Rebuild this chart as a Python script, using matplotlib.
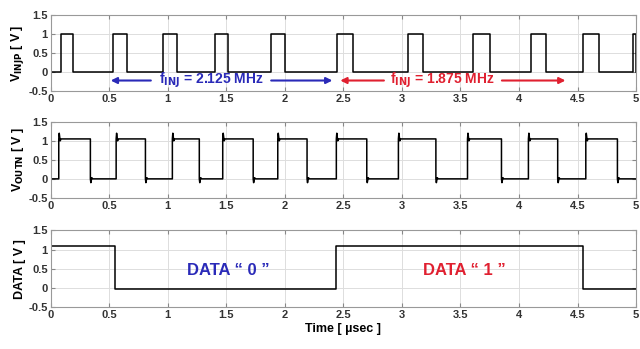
import numpy as np
import matplotlib
matplotlib.use("Agg")
import matplotlib.pyplot as plt

plt.rcParams['font.family'] = ['Liberation Sans', 'DejaVu Sans']

# ---- data ----
x_ticks = [0, 0.5, 1, 1.5, 2, 2.5, 3, 3.5, 4, 4.5, 5]
x_tick_labels = ['0', '0.5', '1', '1.5', '2', '2.5', '3', '3.5', '4', '4.5', '5']
y_ticks = [-0.5, 0, 0.5, 1, 1.5]
y_tick_labels = ['-0.5', '0', '0.5', '1', '1.5']

# V_INJP: pulse edges (rise, fall) in usec
injp_rise = [0.087, 0.536, 0.963, 1.40, 1.88, 2.447, 3.05, 3.61, 4.105, 4.55, 4.97]
injp_fall = [0.195, 0.650, 1.077, 1.515, 2.00, 2.58, 3.18, 3.75, 4.23, 4.68, 5.00]
injp_high = 1.0
injp_low = 0.0

# V_OUTN: square-wave edges
outn_rise = [0.07, 0.56, 1.04, 1.47, 1.94, 2.44, 2.97, 3.56, 4.08, 4.57]
outn_fall = [0.34, 0.81, 1.27, 1.73, 2.19, 2.70, 3.29, 3.85, 4.33, 4.84]
outn_high = 1.05
outn_low = 0.0
outn_overshoot_high = 1.2
outn_overshoot_low = -0.1

# DATA
data_times = [0.0, 0.55, 2.44, 4.55, 5.0]
data_levels = [1.1, -0.03, 1.1, -0.03]


def pulse_wave(rises, falls, hi, lo, os_hi=None, os_lo=None):
    t = [0.0]
    v = [lo]
    for r, f in zip(rises, falls):
        t += [r, r]
        v += [lo, hi]
        if os_hi is not None:
            t += [r + 0.004, r + 0.012, r + 0.02]
            v += [os_hi, hi - 0.05, hi]
        t += [f, f]
        v += [hi, lo]
        if os_lo is not None and f < 5:
            t += [f + 0.004, f + 0.012, f + 0.02]
            v += [os_lo, lo + 0.03, lo]
    t.append(5.0)
    v.append(v[-1])
    return np.array(t), np.array(v)


t1, v1 = pulse_wave(injp_rise, injp_fall, injp_high, injp_low)
t2, v2 = pulse_wave(outn_rise, outn_fall, outn_high, outn_low,
                    outn_overshoot_high, outn_overshoot_low)

t3 = []
v3 = []
for i, lvl in enumerate(data_levels):
    t3 += [data_times[i], data_times[i + 1]]
    v3 += [lvl, lvl]

fig = plt.figure(figsize=(6.4, 3.49), dpi=100)
rects = [
    [0.079, 0.740, 0.915, 0.217],
    [0.079, 0.433, 0.915, 0.218],
    [0.079, 0.120, 0.915, 0.220],
]
ylabels = [r'V$_{\mathbf{INJP}}$ [ V ]', r'V$_{\mathbf{OUTN}}$ [ V ]', 'DATA [ V ]']
series = [(t1, v1), (t2, v2), (t3, v3)]

axes = []
for rect, yl, (tt, vv) in zip(rects, ylabels, series):
    ax = fig.add_axes(rect)
    ax.plot(tt, vv, color='black', lw=1.1)
    ax.set_xlim(0, 5)
    ax.set_ylim(-0.5, 1.5)
    ax.set_xticks(x_ticks)
    ax.set_xticklabels(x_tick_labels, fontsize=8, fontweight='bold', color='#333333')
    ax.set_yticks(y_ticks)
    ax.set_yticklabels(y_tick_labels, fontsize=8, fontweight='bold', color='#333333')
    ax.grid(True, color='#dddddd', lw=0.7)
    ax.tick_params(direction='in', length=3, top=True, right=True, pad=2, color='#888888')
    for s in ax.spines.values():
        s.set_color('#999999')
        s.set_linewidth(0.8)
    ax.set_ylabel(yl, fontsize=9, fontweight='bold', labelpad=2)
    axes.append(ax)

axes[2].set_xlabel('Time [ \u00b5sec ]', fontsize=9, fontweight='bold', labelpad=2)

blue = '#2a2ab8'
red = '#e02030'
ax = axes[0]
ax.annotate('', xy=(0.49, -0.23), xytext=(0.88, -0.23),
            arrowprops=dict(arrowstyle='-|>', color=blue, lw=1.5, mutation_scale=9))
ax.annotate('', xy=(2.43, -0.23), xytext=(1.86, -0.23),
            arrowprops=dict(arrowstyle='-|>', color=blue, lw=1.5, mutation_scale=9))
ax.text(1.37, -0.23, r'f$_{\mathbf{INJ}}$ = 2.125 MHz', color=blue, fontsize=10,
        fontweight='bold', ha='center', va='center')
ax.annotate('', xy=(2.45, -0.23), xytext=(2.87, -0.23),
            arrowprops=dict(arrowstyle='-|>', color=red, lw=1.5, mutation_scale=9))
ax.annotate('', xy=(4.42, -0.23), xytext=(3.83, -0.23),
            arrowprops=dict(arrowstyle='-|>', color=red, lw=1.5, mutation_scale=9))
ax.text(3.35, -0.23, r'f$_{\mathbf{INJ}}$ = 1.875 MHz', color=red, fontsize=10,
        fontweight='bold', ha='center', va='center')

axes[2].text(1.52, 0.45, 'DATA \u201c 0 \u201d', color=blue, fontsize=12,
             fontweight='bold', ha='center', va='center')
axes[2].text(3.53, 0.45, 'DATA \u201c 1 \u201d', color=red, fontsize=12,
             fontweight='bold', ha='center', va='center')

fig.savefig('out.png', dpi=100)
